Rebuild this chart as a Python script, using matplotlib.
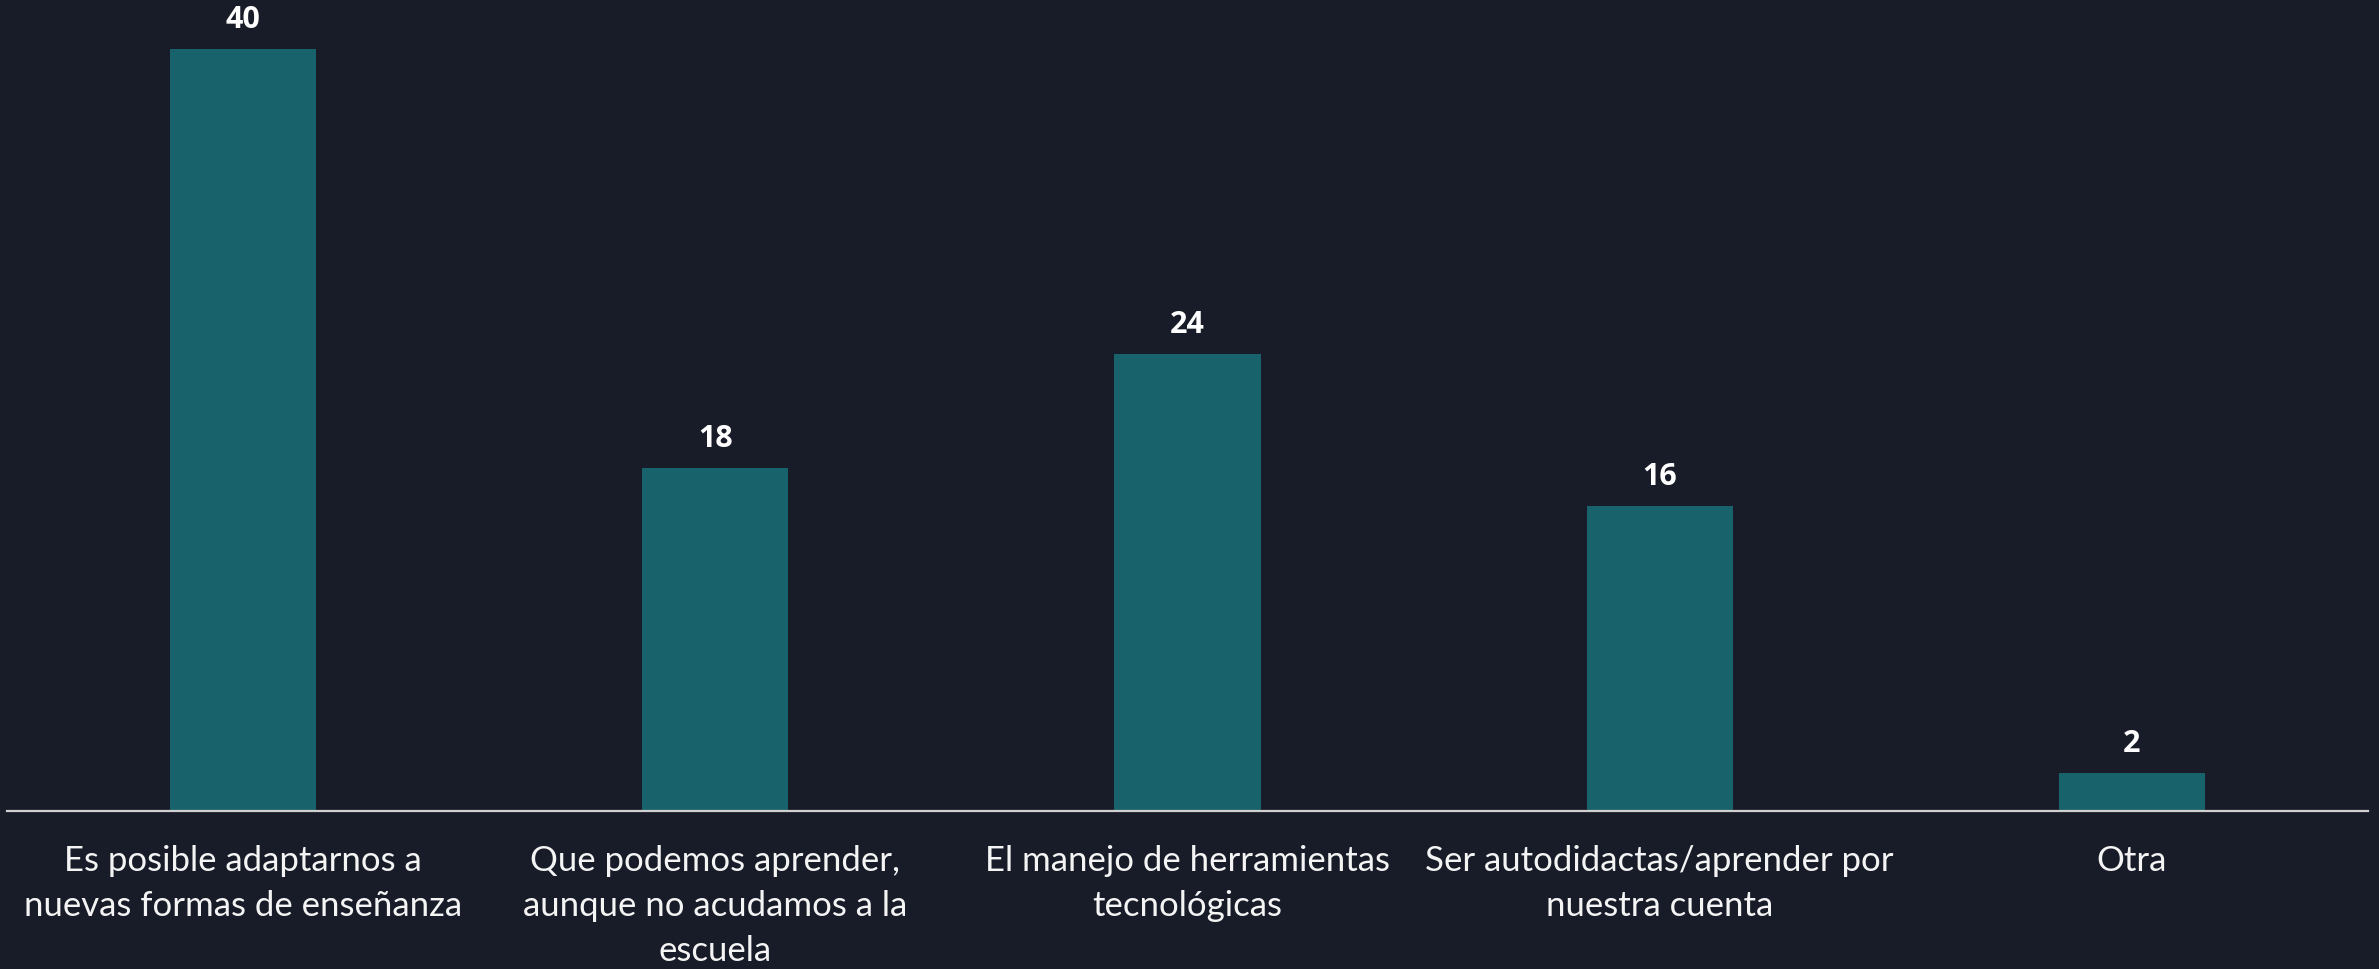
import matplotlib.pyplot as plt
import numpy as np

# Respuestas de la encuesta
categorias = [
    "Es posible adaptarnos a\nnuevas formas de enseñanza",
    "Que podemos aprender,\naunque no acudamos a la\nescuela",
    "El manejo de herramientas\ntecnológicas",
    "Ser autodidactas/aprender por\nnuestra cuenta",
    "Otra",
]
valores = [40, 18, 24, 16, 2]

fondo = "#181c28"
color_barra = "#18636b"

fig = plt.figure(figsize=(23.79, 9.70), dpi=100, facecolor=fondo)
ax = fig.add_axes([7 / 2379, 1 - 812 / 970, 2361 / 2379, 812 / 970])
ax.set_facecolor(fondo)

x = np.arange(len(categorias))
barras = ax.bar(x, valores, width=0.31, color=color_barra)

for b, v in zip(barras, valores):
    ax.text(b.get_x() + b.get_width() / 2, v + 0.8, str(v), ha="center", va="bottom",
            color="white", fontsize=22, fontweight="bold", family=["Open Sans", "DejaVu Sans"])

ax.set_xlim(-0.5, len(categorias) - 0.5)
ax.set_ylim(0, 812 / (762 / 40))
ax.set_xticks(x)
ax.set_xticklabels(categorias, color="#f4f4f4", fontsize=25, family=["Lato", "DejaVu Sans"],
                   linespacing=1.5)
ax.tick_params(axis="x", length=0, pad=24)
ax.set_yticks([])
for s in ["top", "left", "right"]:
    ax.spines[s].set_visible(False)
ax.spines["bottom"].set_color("#d0d0d0")
ax.spines["bottom"].set_linewidth(1.6)

fig.savefig("out.png", dpi=100, facecolor=fondo)
